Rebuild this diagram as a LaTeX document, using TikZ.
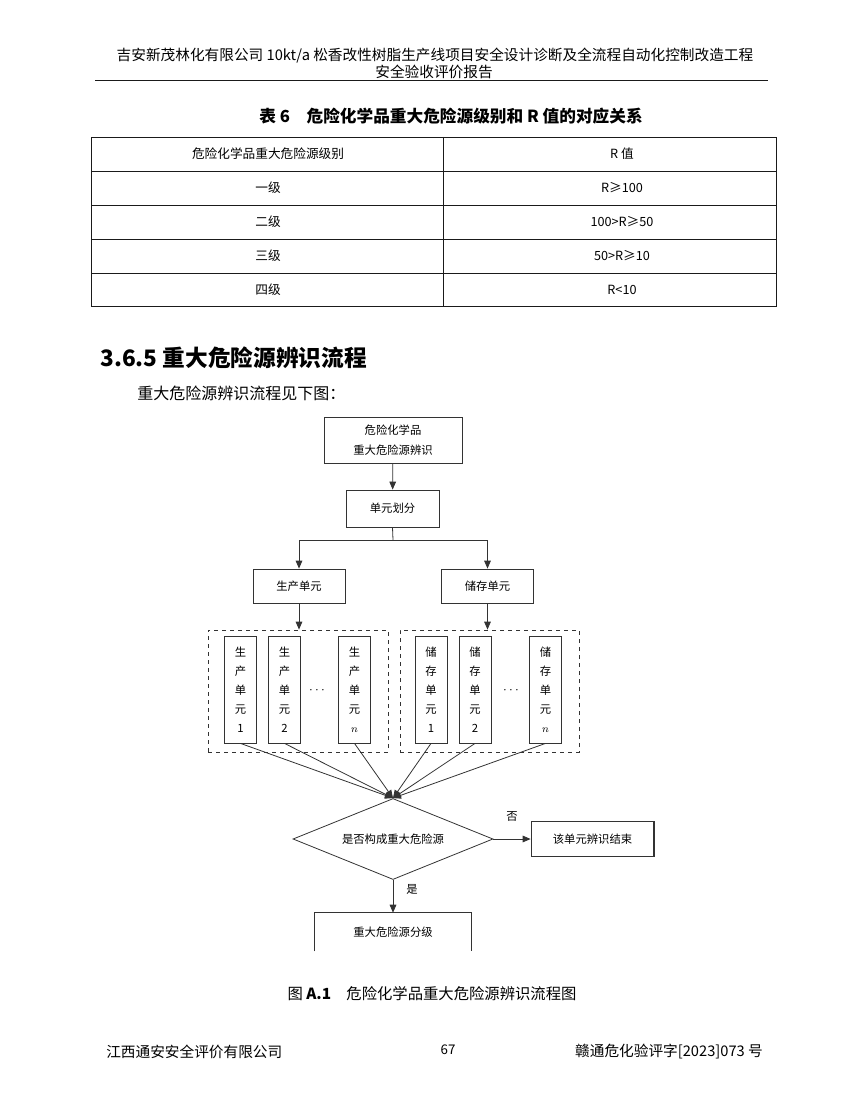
\documentclass[tikz,border=0pt]{standalone}
\usepackage{fontspec}
\setmainfont{Noto Sans CJK SC}
\usepackage{tikz}
\usetikzlibrary{arrows.meta,positioning,shapes.geometric}
\definecolor{tline}{HTML}{1A1A1A}
\definecolor{fline}{HTML}{333333}

\begin{document}
\begin{tikzpicture}[x=0.75pt,y=-0.75pt,
  txt/.style={inner sep=0pt},
  cell/.style={inner sep=0pt,font=\fontsize{9.5}{11}\selectfont},
  box/.style={draw=fline,line width=0.6pt,inner sep=0pt,align=center,
              font=\fontsize{8.5}{15}\selectfont},
  ubox/.style={box,minimum width=24pt,minimum height=80.25pt,
               font=\fontsize{8.5}{14.3}\selectfont},
  grp/.style={draw=fline,dashed,line width=0.6pt,inner sep=0pt,
              minimum width=135pt,minimum height=91.5pt},
  arr/.style={-{Triangle[length=6pt,width=5pt]},draw=fline,line width=0.6pt}]
  \useasboundingbox (0,0) rectangle (848,1119);

  % page head
  \node[txt,font=\fontsize{11}{13}\selectfont] (head1) at (435,56)
    {吉安新茂林化有限公司 10kt/a 松香改性树脂生产线项目安全设计诊断及全流程自动化控制改造工程};
  \node[txt,font=\fontsize{11}{13}\selectfont] (head2) at (434,72) {安全验收评价报告};
  \draw[tline,line width=0.7pt] (95,80) -- (768,80);

  % table 6
  \node[txt,font=\fontsize{12.5}{14}\bfseries] (tcap) at (451,116)
    {表 6\quad 危险化学品重大危险源级别和 R 值的对应关系};
  \draw[tline,line width=0.7pt] (91,137) rectangle (776,306);
  \foreach \y in {171,205,239,273} \draw[tline,line width=0.7pt] (91,\y) -- (776,\y);
  \draw[tline,line width=0.7pt] (443,137) -- (443,306);
  \foreach \a/\b [count=\i] in {危险化学品重大危险源级别/R 值,一级/R≥100,
      二级/100>R≥50,三级/50>R≥10,四级/R<10}{
    \node[cell] (lv\i) at (268,{154+34*(\i-1)}) {\a};
    \node[cell] (rv\i) at (622,{154+34*(\i-1)}) {\b};
  }

  % section text
  \node[txt,anchor=west,font=\fontsize{17}{19}\bfseries] (sec) at (100,358)
    {3.6.5 重大危险源辨识流程};
  \node[txt,anchor=west,font=\fontsize{12}{14}\selectfont] (intro) at (137,393)
    {重大危险源辨识流程见下图：};

  % flow chart
  \node[box,minimum width=103.5pt,minimum height=34.5pt] (ident) at (393,440)
    {危险化学品\\重大危险源辨识};
  \node[box,minimum width=69.75pt,minimum height=27.75pt] (split) at (392.5,508.5) {单元划分};
  \node[box,minimum width=69pt,minimum height=25.5pt] (prod) at (299,586) {生产单元};
  \node[box,minimum width=69pt,minimum height=25.5pt] (stor) at (487.5,586) {储存单元};
  \node[grp] (pgrp) at (298,691) {};
  \node[grp,minimum width=134.25pt] (sgrp) at (489.5,691) {};

  \node[ubox] (p1) at (240.5,689.5) {生\\产\\单\\元\\1};
  \node[ubox] (p2) at (284.5,689.5) {生\\产\\单\\元\\2};
  \node[txt] (pdots) at (317,691) {$\cdots$};
  \node[ubox] (pn) at (354.5,689.5) {生\\产\\单\\元\\$n$};
  \node[ubox] (s1) at (431,689.5) {储\\存\\单\\元\\1};
  \node[ubox] (s2) at (475,689.5) {储\\存\\单\\元\\2};
  \node[txt] (sdots) at (511,691) {$\cdots$};
  \node[ubox] (sn) at (545.5,689.5) {储\\存\\单\\元\\$n$};

  \node[draw=fline,line width=0.6pt,diamond,aspect=2.47,inner sep=0pt,
        minimum width=150pt,minimum height=60.75pt,
        font=\fontsize{8.5}{10}\selectfont] (major) at (393,839) {是否构成重大危险源};
  \node[box,minimum width=92.25pt,minimum height=26.25pt] (stop) at (592.5,839) {该单元辨识结束};
  \draw[fline,line width=1.4pt] (stop.north east) -- (stop.south east);
  \node[inner sep=0pt,minimum width=117pt,minimum height=28.5pt,
        font=\fontsize{8.5}{10}\selectfont] (grade) at (393,932) {重大危险源分级};
  \draw[fline,line width=0.6pt] (grade.south west) -- (grade.north west)
    -- (grade.north east) -- (grade.south east);

  \coordinate (fork) at (393,540);
  \draw[arr] (ident) -- (split);
  \draw[fline,line width=0.6pt] (split.south) -- (fork);
  \draw[arr] (fork) -| (prod.north);
  \draw[arr] (fork) -| (stor.north);
  \draw[arr] (prod.south) -- (prod.south |- pgrp.north);
  \draw[arr] (stor.south) -- (stor.south |- sgrp.north);
  \foreach \u in {p1,p2,pn,s1,s2,sn} \draw[arr] (\u.south) -- (major.north);
  \draw[arr] (major.east) -- node[txt,above=13pt,font=\fontsize{8.5}{10}\selectfont] (no) {否} (stop.west);
  \draw[arr] (major.south) -- (grade.north);
  \node[txt,font=\fontsize{8.5}{10}\selectfont] (yes) at (412,889) {是};

  % caption and foot
  \node[txt,font=\fontsize{11.5}{13}\selectfont] (fcap) at (432,994)
    {图 \textbf{A.1}\quad 危险化学品重大危险源辨识流程图};
  \node[txt,anchor=west,font=\fontsize{11}{13}\selectfont] (footl) at (106,1052) {江西通安安全评价有限公司};
  \node[txt,font=\fontsize{10}{12}\selectfont] (page) at (448,1050) {67};
  \node[txt,anchor=east,font=\fontsize{11}{13}\selectfont] (footr) at (763,1052) {赣通危化验评字[2023]073 号};
\end{tikzpicture}
\end{document}
